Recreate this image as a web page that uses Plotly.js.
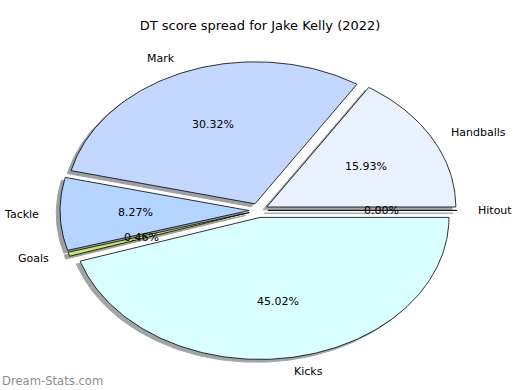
<!DOCTYPE html>
<html>
<head>
<meta charset="utf-8">
<script src="https://cdn.plot.ly/plotly-3.0.1.min.js"></script>
<style>
html,body{margin:0;padding:0;background:#fff;}
#chart{width:520px;height:390px;}
</style>
</head>
<body>
<div id="chart"></div>
<script>
// ---- data ----
const labels = ['Handballs', 'Mark', 'Tackle', 'Goals', 'Kicks', 'Hitout'];
const values = [15.93, 30.32, 8.27, 0.46, 45.02, 0.00];
const colors = ['#eaf2ff', '#c4d8ff', '#b3d5ff', '#c5e37a', '#d9ffff', '#ffffff'];
const titleText = 'DT score spread for Jake Kelly (2022)';
const watermark = 'Dream-Stats.com';

// ---- layout constants (matplotlib-like pie) ----
const explode = 0.05, labelDist = 1.1, pctDist = 0.6, shadowOff = 0.02;
const W = 520, H = 390, cxPx = 258.5, cyPx = 210.4, rxPx = 189, ryPx = 142;
const xRange = [-cxPx / rxPx, (W - cxPx) / rxPx];
const yRange = [-(H - cyPx) / ryPx, cyPx / ryPx];
const FONT = 'DejaVu Sans, sans-serif';

const total = values.reduce((a, b) => a + b, 0);
const shadows = [], wedges = [], annotations = [];
let cum = 0;
function shadowColor(hex) {
  const c = [1, 3, 5].map(p => parseInt(hex.slice(p, p + 2), 16));
  const m = c.map(v => Math.round(0.5 * 0.3 * v + 0.5 * 255));
  return `rgb(${m[0]},${m[1]},${m[2]})`;
}
values.forEach((v, i) => {
  const t1 = cum / total * 360;
  cum += v;
  const t2 = cum / total * 360;
  const tm = (t1 + t2) / 2 * Math.PI / 180;
  const ox = explode * Math.cos(tm), oy = explode * Math.sin(tm);
  const xs = [ox], ys = [oy];
  const n = Math.max(1, Math.ceil((t2 - t1) / 1));
  for (let k = 0; k <= n; k++) {
    const a = (t1 + (t2 - t1) * k / n) * Math.PI / 180;
    xs.push(ox + Math.cos(a));
    ys.push(oy + Math.sin(a));
  }
  xs.push(ox); ys.push(oy);
  const sc = shadowColor(colors[i]);
  shadows.push({
    type: 'scatter', mode: 'lines', fill: 'toself',
    x: xs.map(x => x - shadowOff), y: ys.map(y => y - shadowOff),
    fillcolor: sc, line: {color: sc, width: 1}, hoverinfo: 'skip'
  });
  wedges.push({
    type: 'scatter', mode: 'lines', fill: 'toself',
    x: xs, y: ys, fillcolor: colors[i],
    line: {color: '#000000', width: 0.8}, hoverinfo: 'skip'
  });
  const lx = ox + labelDist * Math.cos(tm), ly = oy + labelDist * Math.sin(tm);
  annotations.push({
    x: lx, y: ly, xref: 'x', yref: 'y', text: labels[i], showarrow: false,
    xanchor: lx > 0 ? 'left' : 'right', yanchor: 'middle',
    font: {family: FONT, size: 11, color: '#000'}
  });
  annotations.push({
    x: ox + pctDist * Math.cos(tm), y: oy + pctDist * Math.sin(tm), xref: 'x', yref: 'y',
    text: (v / total * 100).toFixed(2) + '%', showarrow: false,
    xanchor: 'center', yanchor: 'middle',
    font: {family: FONT, size: 11, color: '#000'}
  });
});
annotations.push({
  x: 0, y: 0, xref: 'paper', yref: 'paper', xanchor: 'left', yanchor: 'bottom',
  text: watermark, showarrow: false,
  font: {family: FONT, size: 11.6, color: '#8c8c8c'}
});

const layout = {
  width: W, height: H,
  margin: {l: 0, r: 0, t: 0, b: 0},
  paper_bgcolor: '#ffffff', plot_bgcolor: '#ffffff',
  showlegend: false, hovermode: false,
  title: {text: titleText, x: 0.5, xanchor: 'center', y: 1 - 25 / H, yanchor: 'middle',
          font: {family: FONT, size: 13, color: '#000'}},
  xaxis: {range: xRange, visible: false, fixedrange: true},
  yaxis: {range: yRange, visible: false, fixedrange: true},
  annotations: annotations
};
Plotly.newPlot('chart', shadows.concat(wedges), layout, {displayModeBar: false, staticPlot: true});
</script>
</body>
</html>
